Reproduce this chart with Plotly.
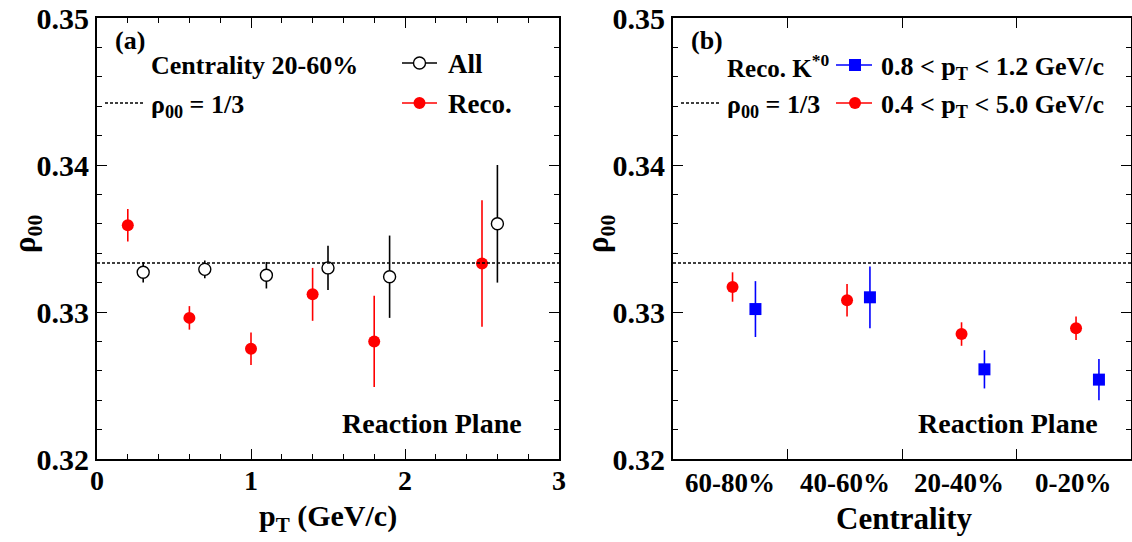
import plotly.graph_objects as go

W, H = 1132, 542

# ---- Panel (a): rho_00 versus pT, centrality 20-60% ----
pt_reco = [0.2, 0.6, 1.0, 1.4, 1.8, 2.5]
rho_reco = [0.3359, 0.3296, 0.3275, 0.3312, 0.3280, 0.3333]
err_reco = [0.0011, 0.0008, 0.0011, 0.0018, 0.0031, 0.0043]

pt_all = [0.3, 0.7, 1.1, 1.5, 1.9, 2.6]
rho_all = [0.3327, 0.3329, 0.3325, 0.3330, 0.3324, 0.3360]
err_all = [0.0007, 0.0006, 0.0009, 0.0015, 0.0028, 0.0040]

# ---- Panel (b): rho_00 versus centrality ----
centrality = ["60-80%", "40-60%", "20-40%", "0-20%"]
rho_wide = [0.3317, 0.3308, 0.3285, 0.3289]   # 0.4 < pT < 5.0 GeV/c
err_wide = [0.0010, 0.0011, 0.0008, 0.0008]
rho_mid = [0.3302, 0.3310, 0.3261, 0.3254]    # 0.8 < pT < 1.2 GeV/c
err_mid = [0.0019, 0.0021, 0.0013, 0.0014]

rho_iso = 1 / 3

RED = "#ff0000"
BLUE = "#0000ff"
FONT = "Liberation Serif, Times New Roman, serif"

# horizontal shift of each series inside a centrality bin
shift_wide, shift_mid = 0.52, 0.72
x_wide = [i + shift_wide for i in range(len(centrality))]
x_mid = [i + shift_mid for i in range(len(centrality))]


def px(x):
    return x / W


def py(y):
    return 1 - y / H


fig = go.Figure()


def err(arr, color):
    return dict(type="data", array=arr, visible=True, width=0,
                thickness=1.6, color=color)


fig.add_trace(go.Scatter(
    x=pt_reco, y=rho_reco, mode="markers", xaxis="x", yaxis="y",
    marker=dict(symbol="circle", size=12, color=RED, line=dict(width=0)),
    error_y=err(err_reco, RED), showlegend=False))
fig.add_trace(go.Scatter(
    x=pt_all, y=rho_all, mode="markers", xaxis="x", yaxis="y",
    marker=dict(symbol="circle", size=12, color="white",
                line=dict(width=1.4, color="black")),
    error_y=err(err_all, "black"), showlegend=False))
fig.add_trace(go.Scatter(
    x=x_wide, y=rho_wide, mode="markers", xaxis="x2", yaxis="y2",
    marker=dict(symbol="circle", size=12, color=RED, line=dict(width=0)),
    error_y=err(err_wide, RED), showlegend=False))
fig.add_trace(go.Scatter(
    x=x_mid, y=rho_mid, mode="markers", xaxis="x2", yaxis="y2",
    marker=dict(symbol="square", size=12, color=BLUE, line=dict(width=0)),
    error_y=err(err_mid, BLUE), showlegend=False))

frame = dict(showline=True, linewidth=2, linecolor="black", mirror="ticks",
             ticks="inside", tickcolor="black", tickwidth=1.3, ticklen=10,
             showgrid=False, zeroline=False, fixedrange=True,
             automargin=False)

ydom = [py(459), py(18)]
yaxis_common = dict(frame, range=[0.32, 0.35], dtick=0.01, tick0=0.32,
                    tickformat=".2f",
                    tickfont=dict(family=FONT, size=30, color="black",
                                  weight="bold"),
                    minor=dict(dtick=0.002, ticks="inside", ticklen=5,
                               tickwidth=1.2, tickcolor="black"),
                    domain=ydom)

fig.update_layout(
    width=W, height=H, autosize=False,
    margin=dict(l=0, r=0, t=0, b=0, pad=0, autoexpand=False),
    paper_bgcolor="white", plot_bgcolor="white", showlegend=False,
    xaxis=dict(frame, domain=[px(97), px(559)], range=[0, 3], dtick=1,
               tick0=0, anchor="y", ticklabelstandoff=-5,
               tickfont=dict(family=FONT, size=28, color="black",
                             weight="bold"),
               minor=dict(dtick=0.2, ticks="inside", ticklen=5,
                          tickwidth=1.2, tickcolor="black")),
    yaxis=dict(yaxis_common, anchor="x"),
    xaxis2=dict(frame, domain=[px(673), px(1131)], range=[0, 4],
                tickvals=[1, 2, 3], showticklabels=False, anchor="y2"),
    yaxis2=dict(yaxis_common, anchor="x2"),
)

# rho_00 = 1/3 reference lines
for xr, yr in (("x", "y"), ("x2", "y2")):
    fig.add_shape(type="line", xref=xr + " domain", yref=yr, x0=0, x1=1,
                  y0=rho_iso, y1=rho_iso,
                  line=dict(color="black", width=1.5, dash="3px,2px"))

# centrality bin labels
for i, lab in enumerate(centrality):
    fig.add_annotation(x=i + 0.5, xref="x2", y=py(483), yref="paper",
                       text=lab, showarrow=False, xanchor="center",
                       yanchor="middle",
                       font=dict(family=FONT, size=27, color="black",
                                 weight="bold"))


def text(x, y, s, size=26, anchor="left", angle=0):
    fig.add_annotation(x=px(x), y=py(y), xref="paper", yref="paper",
                       text=s, showarrow=False, xanchor=anchor,
                       yanchor="middle", textangle=angle,
                       font=dict(family=FONT, size=size, color="black",
                                 weight="bold"))


def seg(x0, x1, y, color, width=1.3, dash=None):
    fig.add_shape(type="line", xref="paper", yref="paper",
                  x0=px(x0), x1=px(x1), y0=py(y), y1=py(y),
                  line=dict(color=color, width=width, dash=dash))


def dot(x, y, color, fill, kind="circle", r=6):
    fig.add_shape(type=kind, xref="paper", yref="paper",
                  xsizemode="pixel", ysizemode="pixel",
                  xanchor=px(x), yanchor=py(y),
                  x0=-r, x1=r, y0=-r, y1=r, fillcolor=fill,
                  line=dict(color=color, width=1.4 if fill == "white" else 0))


# panel (a) texts and legend
text(113, 40, "(a)", size=26)
text(149, 65, "Centrality 20-60%", size=26)
seg(105, 143, 103, "black", width=1.5, dash="3px,2px")
text(149, 106, "ρ<sub>00</sub> = 1/3", size=26)
seg(402, 437, 63, "black")
dot(419.5, 63, "black", "white")
text(446, 64, "All", size=27)
seg(402, 437, 103, RED)
dot(419.5, 103, RED, RED)
text(446, 104, "Reco.", size=27)
text(524, 423, "Reaction Plane", size=28, anchor="right")

# panel (b) texts and legend
text(689, 40, "(b)", size=26)
text(725, 66, "Reco. K<sup>*0</sup>", size=25)
seg(836, 872, 65, BLUE)
dot(855, 65, BLUE, BLUE, kind="rect")
text(879, 68, "0.8 < p<sub>T</sub> < 1.2 GeV/c", size=26)
seg(681, 719, 103, "black", width=1.5, dash="3px,2px")
text(725, 106, "ρ<sub>00</sub> = 1/3", size=26)
seg(836, 872, 103, RED)
dot(855, 103, RED, RED)
text(879, 106, "0.4 < p<sub>T</sub> < 5.0 GeV/c", size=26)
text(1100, 423, "Reaction Plane", size=28, anchor="right")

# axis titles
text(328, 518, "p<sub>T</sub> (GeV/c)", size=30, anchor="center")
text(904, 518, "Centrality", size=31, anchor="center")
text(27, 234, "ρ<sub>00</sub>", size=31, anchor="center", angle=-90)
text(600, 234, "ρ<sub>00</sub>", size=31, anchor="center", angle=-90)

fig.write_html("out.html")
